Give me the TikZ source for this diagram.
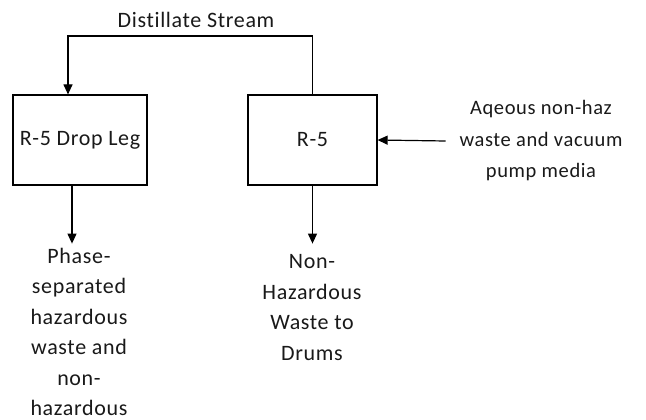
\documentclass[tikz,border=0pt]{standalone}
\usepackage{fontspec}
\setmainfont{Carlito}[Ligatures=CommonOff,LetterSpace=3]
\usetikzlibrary{arrows.meta}
\begin{document}
\begin{tikzpicture}[x=1pt,y=-1pt,line width=1.2pt,
    unit/.style={draw,minimum height=90pt,inner sep=0pt},
    flow/.style={-{Triangle[width=9pt,length=10pt]}},
    lbl/.style={align=center,text=black!90,font=\fontsize{22}{30.5}\selectfont}]
      \useasboundingbox (0,0) rectangle (646,420);
      \node (dropleg) at (80,140) [unit,lbl,minimum width=134pt] {R-5 Drop Leg};
      \node (r5) at (312.5,140) [unit,lbl,minimum width=129pt] {R-5};
      \coordinate (bend) at (68,36) ;
      \node (distillate) at (196,20) [lbl] {Distillate Stream};
      \node (feed) at (541,141) [lbl,font=\fontsize{20.5}{31.5}\selectfont] {Aqeous non-haz\\waste and vacuum\\pump media};
      \node (haz) at (79,332) [lbl] {Phase-\\separated\\hazardous\\waste and\\non-\\hazardous};
      \node (drums) at (312,307.5) [lbl] {Non-\\Hazardous\\Waste to\\Drums};
      % distillate goes back over the top into the drop leg
      \draw[flow] (r5.north) |- (bend) -- (dropleg.north -| bend);
      \draw[flow] ([xshift=-10pt]feed.west) -- (r5.east);
      \draw[flow] ([xshift=-8pt]dropleg.south) -- ++(0,58);
      \draw[flow] (r5.south) -- ++(0,58);
    \end{tikzpicture}
\end{document}
